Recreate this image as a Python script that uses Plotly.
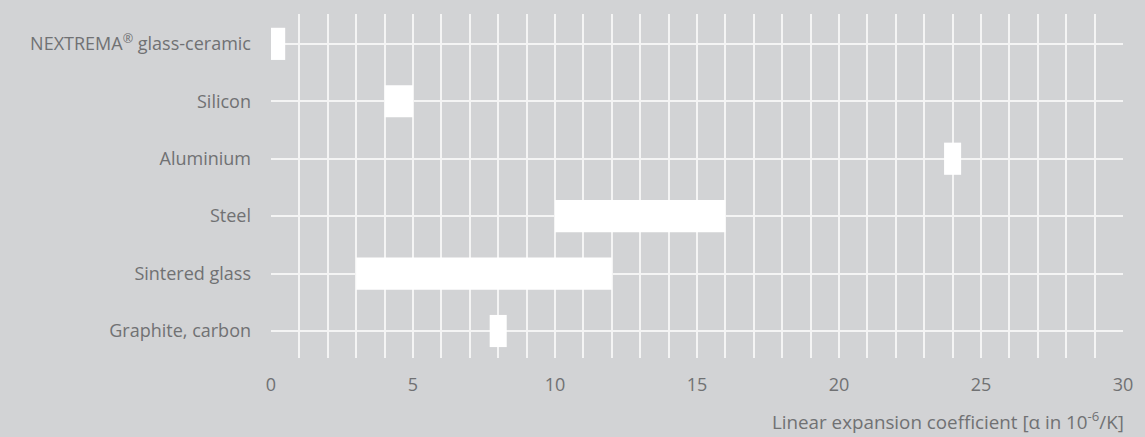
import plotly.graph_objects as go

materials = ["NEXTREMA<sup>®</sup> glass-ceramic", "Silicon", "Aluminium", "Steel", "Sintered glass", "Graphite, carbon"]
low_values = [0.0, 4.0, 23.7, 10.0, 3.0, 7.7]
high_values = [0.5, 5.0, 24.3, 16.0, 12.0, 8.3]
x_tick_values = [0, 5, 10, 15, 20, 25, 30]
x_tick_labels = ["0", "5", "10", "15", "20", "25", "30"]

bg = "#d2d3d5"
text_col = "#707173"
grid_col = "#f4f4f4"
font_family = "'Open Sans', sans-serif"
fs = 18

widths = [h - l for h, l in zip(high_values, low_values)]

fig = go.Figure(go.Bar(
    y=materials,
    x=widths,
    base=low_values,
    orientation="h",
    width=0.56,
    marker=dict(color="#ffffff", line=dict(width=0)),
    hoverinfo="skip",
))

fig.update_layout(
    width=1145, height=437,
    paper_bgcolor=bg, plot_bgcolor=bg,
    margin=dict(l=271, r=20, t=14, b=79),
    showlegend=False,
    font=dict(family=font_family, size=fs, color=text_col),
    xaxis=dict(
        range=[0, 30],
        tickmode="array", tickvals=x_tick_values, ticktext=x_tick_labels,
        showgrid=True, gridcolor=grid_col, gridwidth=1.5,
        minor=dict(dtick=1, showgrid=True, gridcolor=grid_col, gridwidth=1.5),
        zeroline=False, showline=False, ticks="",
        ticklabelstandoff=14,
        tickfont=dict(size=fs, color=text_col),
    ),
    yaxis=dict(
        categoryorder="array", categoryarray=materials,
        range=[5.47, -0.52],
        showgrid=True, gridcolor=grid_col, gridwidth=1.5,
        zeroline=False, showline=False, ticks="",
        ticklabelstandoff=19,
        tickfont=dict(size=fs, color=text_col),
    ),
    annotations=[dict(
        text="Linear expansion coefficient [α in 10<sup>-6</sup>/K]",
        xref="paper", yref="paper", x=1.004, y=0, yshift=-79,
        xanchor="right", yanchor="bottom", showarrow=False,
        font=dict(size=18.8, color=text_col, family=font_family),
    )],
)

fig.write_html(
    "out.html",
    config={"displayModeBar": False},
    post_script="document.body.style.margin='0';document.body.style.background='#d2d3d5';",
)
